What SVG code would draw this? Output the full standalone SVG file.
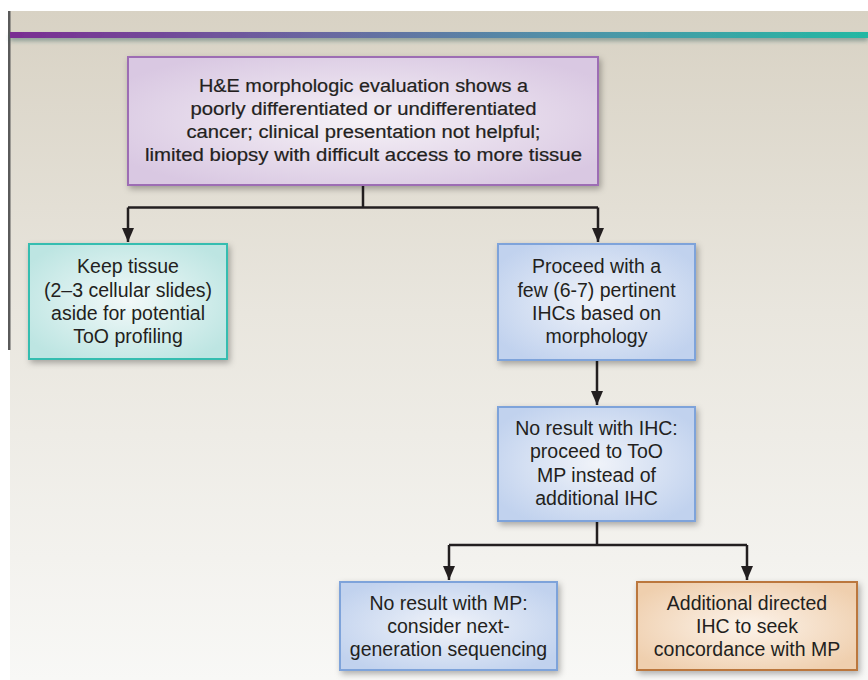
<svg xmlns="http://www.w3.org/2000/svg" width="868" height="680" viewBox="0 0 868 680">
<defs>
  <linearGradient id="bg" x1="0" y1="0" x2="0" y2="1">
    <stop offset="0" stop-color="#d8d2c4"/>
    <stop offset="0.45" stop-color="#e9e6de"/>
    <stop offset="1" stop-color="#f8f8f6"/>
  </linearGradient>
  <linearGradient id="bar" x1="0" y1="0" x2="1" y2="0">
    <stop offset="0" stop-color="#7a2d92"/>
    <stop offset="0.35" stop-color="#6a66a0"/>
    <stop offset="0.65" stop-color="#4f92a8"/>
    <stop offset="1" stop-color="#23b8a3"/>
  </linearGradient>
  <radialGradient id="gPurple" cx="0.5" cy="0.5" r="0.6">
    <stop offset="0" stop-color="#f6f2f7"/>
    <stop offset="1" stop-color="#d9c8e2"/>
  </radialGradient>
  <radialGradient id="gTeal" cx="0.5" cy="0.5" r="0.6">
    <stop offset="0" stop-color="#f2f9f9"/>
    <stop offset="1" stop-color="#bde5e2"/>
  </radialGradient>
  <radialGradient id="gBlue" cx="0.5" cy="0.5" r="0.6">
    <stop offset="0" stop-color="#f0f3f9"/>
    <stop offset="1" stop-color="#c1d2ee"/>
  </radialGradient>
  <radialGradient id="gOrange" cx="0.5" cy="0.5" r="0.6">
    <stop offset="0" stop-color="#fcf3ea"/>
    <stop offset="1" stop-color="#efcfae"/>
  </radialGradient>
  <filter id="shadow" x="-10%" y="-10%" width="125%" height="135%">
    <feDropShadow dx="2" dy="3" stdDeviation="3" flood-color="#000" flood-opacity="0.3"/>
  </filter>
  <filter id="barShadow" x="-5%" y="-100%" width="110%" height="400%">
    <feDropShadow dx="0" dy="3" stdDeviation="2" flood-color="#2a5a5a" flood-opacity="0.45"/>
  </filter>
  <marker id="arrow" viewBox="0 0 14 12" refX="14" refY="6" markerWidth="14" markerHeight="12" markerUnits="userSpaceOnUse" orient="auto">
    <path d="M0,0 L14,6 L0,12 z" fill="#231f20"/>
  </marker>
</defs>
<style>
  .txt { font-family: "Liberation Sans", Arial, sans-serif; fill: #231f20; text-anchor: middle; }
  .top { font-size: 17.5px; stroke: #231f20; stroke-width: 0.2; }
  .sm { font-size: 19.5px; }
  .line { fill: none; stroke: #231f20; stroke-width: 2.5; }
  .box { stroke-width: 2; filter: url(#shadow); }
</style>

<rect x="0" y="0" width="868" height="680" fill="#ffffff"/>
<rect x="10" y="11" width="858" height="669" fill="url(#bg)"/>
<rect x="8" y="11" width="2.5" height="339" fill="#5a5a5a"/>
<rect x="10" y="32" width="858" height="6" fill="url(#bar)" filter="url(#barShadow)"/>

<g id="connectors">
  <path class="line" d="M363,185 V207.5"/>
  <path class="line" d="M128,207.5 H598"/>
  <path class="line" d="M128,207.5 V242" marker-end="url(#arrow)"/>
  <path class="line" d="M598,207.5 V242" marker-end="url(#arrow)"/>
  <path class="line" d="M597,360 V405" marker-end="url(#arrow)"/>
  <path class="line" d="M597,521 V545"/>
  <path class="line" d="M449,545 H747"/>
  <path class="line" d="M449,545 V580" marker-end="url(#arrow)"/>
  <path class="line" d="M747,545 V580" marker-end="url(#arrow)"/>
</g>

<g id="node-he">
  <rect class="box" x="128" y="57" width="470" height="128" fill="url(#gPurple)" stroke="#9d6db4"/>
  <text class="txt top" x="363.5" y="92" textLength="329" lengthAdjust="spacingAndGlyphs">H&amp;E morphologic evaluation shows a</text>
  <text class="txt top" x="363.5" y="115" textLength="346" lengthAdjust="spacingAndGlyphs">poorly differentiated or undifferentiated</text>
  <text class="txt top" x="363.5" y="138" textLength="354" lengthAdjust="spacingAndGlyphs">cancer; clinical presentation not helpful;</text>
  <text class="txt top" x="363.5" y="161" textLength="437" lengthAdjust="spacingAndGlyphs">limited biopsy with difficult access to more tissue</text>
</g>

<g id="node-keep">
  <rect class="box" x="29" y="244" width="198" height="115" fill="url(#gTeal)" stroke="#35bdb0"/>
  <text class="txt sm" x="128" y="273">Keep tissue</text>
  <text class="txt sm" x="128" y="296.5">(2–3 cellular slides)</text>
  <text class="txt sm" x="128" y="319.5">aside for potential</text>
  <text class="txt sm" x="128" y="342.5">ToO profiling</text>
</g>

<g id="node-proceed">
  <rect class="box" x="498" y="244" width="197" height="116" fill="url(#gBlue)" stroke="#7ea3da"/>
  <text class="txt sm" x="596.5" y="273">Proceed with a</text>
  <text class="txt sm" x="596.5" y="296.5">few (6-7) pertinent</text>
  <text class="txt sm" x="596.5" y="319.5">IHCs based on</text>
  <text class="txt sm" x="596.5" y="342.5">morphology</text>
</g>

<g id="node-noihc">
  <rect class="box" x="498" y="407" width="197" height="114" fill="url(#gBlue)" stroke="#7ea3da"/>
  <text class="txt sm" x="596.5" y="435">No result with IHC:</text>
  <text class="txt sm" x="596.5" y="458">proceed to ToO</text>
  <text class="txt sm" x="596.5" y="481.5">MP instead of</text>
  <text class="txt sm" x="596.5" y="505">additional IHC</text>
</g>

<g id="node-nomp">
  <rect class="box" x="340" y="582" width="217" height="88" fill="url(#gBlue)" stroke="#7ea3da"/>
  <text class="txt sm" x="448.5" y="610">No result with MP:</text>
  <text class="txt sm" x="448.5" y="633">consider next-</text>
  <text class="txt sm" x="448.5" y="656">generation sequencing</text>
</g>

<g id="node-additional">
  <rect class="box" x="637" y="582" width="220" height="88" fill="url(#gOrange)" stroke="#bb773c"/>
  <text class="txt sm" x="747" y="610">Additional directed</text>
  <text class="txt sm" x="747" y="633">IHC to seek</text>
  <text class="txt sm" x="747" y="656">concordance with MP</text>
</g>
</svg>
